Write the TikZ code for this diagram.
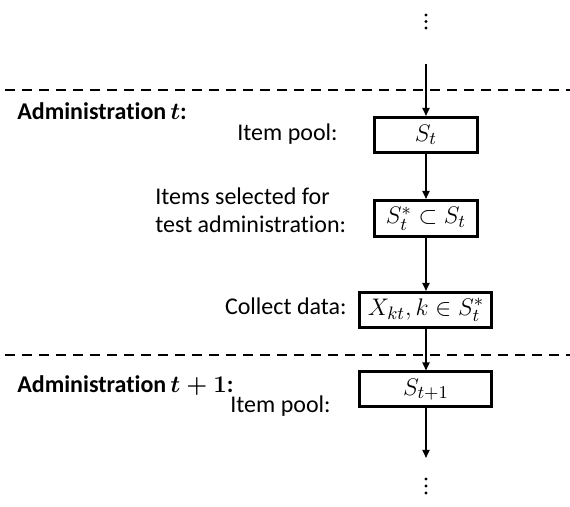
\documentclass[tikz,border=0pt]{standalone}
\usepackage{fontspec}
\setmainfont{Carlito}[Ligatures=NoCommon]
\usepackage{amsmath}
\usetikzlibrary{arrows.meta,positioning}

\begin{document}
\begin{tikzpicture}[x=0.5pt,y=-0.5pt,
  every node/.style={font=\fontsize{12}{14}\selectfont,inner sep=0pt},
  box/.style={draw,line width=1.5pt,minimum width=51.5pt,minimum height=17.5pt,font=\fontsize{12.5}{15}\selectfont},
  flow/.style={-{Triangle[length=4pt,width=3.5pt]},line width=0.9pt},
  sep/.style={dash pattern=on 5pt off 3.5pt,line width=0.9pt},
  head/.style={font=\fontsize{12}{14}\selectfont\bfseries\boldmath}]
\useasboundingbox (0,0) rectangle (570,507);
\node[box] (pool) at (426,135) {$S_t$};
\node[box,minimum height=18pt] (sel) at (426,218.5) {$S_t^* \subset S_t$};
\node[box,minimum width=66pt] (data) at (426,310) {$X_{kt}, k \in S_t^*$};
\node[box,minimum width=66pt] (next) at (426,389.5) {$S_{t+1}$};
\coordinate (inA) at (426,64);
\coordinate (outB) at (426,458);
\draw[flow] (inA) -- (pool);
\draw[flow] (pool) -- (sel);
\draw[flow] (sel) -- (data);
\draw[flow] (data) -- (next);
\draw[flow] (next) -- (outB);
% dots above and below
\foreach \y in {15,21.5,28,479,486,493}
  \fill (426,\y) circle (0.8pt);
% separators between administrations
\coordinate (sepAl) at (5,90);
\coordinate (sepAr) at (570,90);
\coordinate (sepBl) at (5,355);
\coordinate (sepBr) at (570,355);
\draw[sep] (sepAl) -- (sepAr);
\draw[sep] (sepBl) -- (sepBr);
\node[head,anchor=base west] (admA) at (17,120) {Administration\,$t$:};
\node[anchor=base east] (poolA) at (338,141) {Item pool:};
\node[anchor=base west,align=left] (selA) at (155,233) {Items selected for\\test administration:};
\node[anchor=base east] (dataA) at (347,315) {Collect data:};
\node[head,anchor=base west] (admB) at (17,393) {Administration\,$t+1$:};
\node[anchor=base west] (poolB) at (230,413) {Item pool:};
\end{tikzpicture}
\end{document}
